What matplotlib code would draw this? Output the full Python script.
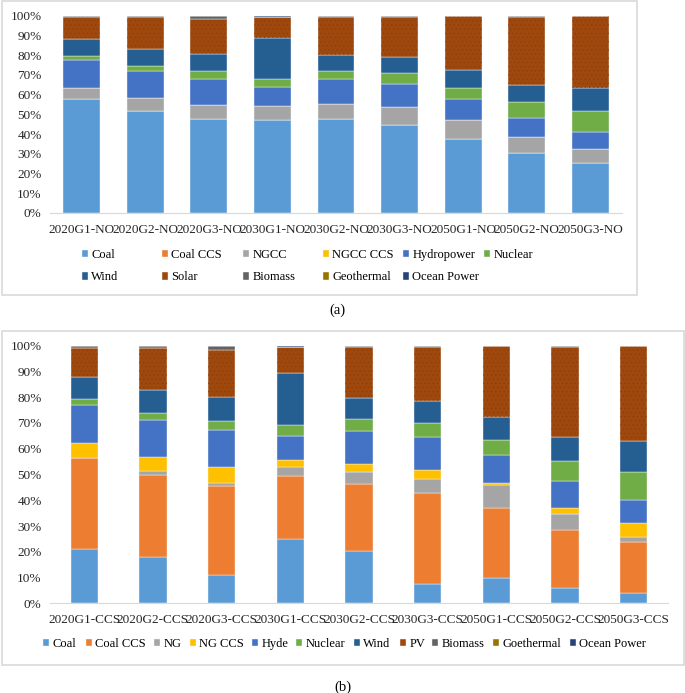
import numpy as np
import matplotlib
matplotlib.use("Agg")
import matplotlib.pyplot as plt
from matplotlib.patches import Rectangle

plt.rcParams['font.family'] = ['Liberation Serif', 'DejaVu Serif']
plt.rcParams['hatch.linewidth'] = 0.25

# ---- panel (a) data, % of generation ----
cats_a = ['2020G1-NO', '2020G2-NO', '2020G3-NO', '2030G1-NO', '2030G2-NO',
          '2030G3-NO', '2050G1-NO', '2050G2-NO', '2050G3-NO']
coal_a = [57.7, 51.6, 47.4, 47.2, 47.4, 44.7, 37.6, 30.2, 25.1]
coalccs_a = [0, 0, 0, 0, 0, 0, 0, 0, 0]
ngcc_a = [5.9, 6.7, 7.1, 6.8, 7.9, 8.8, 9.6, 8.2, 7.3]
ngccccs_a = [0, 0, 0, 0, 0, 0, 0, 0, 0]
hydro_a = [14.1, 13.7, 13.6, 9.9, 12.5, 12.1, 10.8, 10.0, 8.9]
nuclear_a = [2.1, 2.5, 3.7, 4.2, 4.4, 5.4, 5.6, 7.9, 10.5]
wind_a = [8.4, 8.6, 9.0, 20.8, 8.1, 8.1, 8.9, 8.6, 11.8]
solar_a = [11.3, 16.1, 17.5, 10.3, 19.2, 20.4, 27.2, 34.6, 36.1]
biomass_a = [0.5, 0.8, 1.7, 0.3, 0.5, 0.5, 0.3, 0.5, 0.3]
geo_a = [0, 0, 0, 0, 0, 0, 0, 0, 0]
ocean_a = [0, 0, 0, 0.5, 0, 0, 0, 0, 0]

# ---- panel (b) data ----
cats_b = ['2020G1-CCS', '2020G2-CCS', '2020G3-CCS', '2030G1-CCS', '2030G2-CCS',
          '2030G3-CCS', '2050G1-CCS', '2050G2-CCS', '2050G3-CCS']
coal_b = [21.2, 18.1, 11.0, 24.8, 20.3, 7.5, 9.7, 6.0, 4.1]
coalccs_b = [35.1, 31.7, 34.5, 24.7, 25.9, 35.3, 27.4, 22.6, 19.8]
ng_b = [0, 1.6, 1.3, 3.3, 4.8, 5.5, 8.7, 6.2, 1.7]
ngccs_b = [6.1, 5.5, 6.2, 2.7, 3.2, 3.6, 0.9, 2.2, 5.7]
hyde_b = [14.4, 14.3, 14.3, 9.6, 12.7, 12.5, 11.0, 10.3, 8.9]
nuclear_b = [2.4, 2.5, 3.6, 4.2, 4.5, 5.6, 5.8, 7.9, 10.6]
wind_b = [8.8, 9.0, 9.2, 20.0, 8.4, 8.5, 8.8, 9.2, 12.1]
pv_b = [11.2, 16.3, 18.3, 10.1, 19.6, 20.9, 27.4, 35.2, 36.8]
biomass_b = [0.8, 1.0, 1.6, 0.2, 0.6, 0.6, 0.3, 0.4, 0.3]
geo_b = [0, 0, 0, 0, 0, 0, 0, 0, 0]
ocean_b = [0, 0, 0, 0.4, 0, 0, 0, 0, 0]

colors = ['#5B9BD5', '#ED7D31', '#A5A5A5', '#FFC000', '#4472C4', '#70AD47',
          '#255E91', '#9E480E', '#636363', '#997300', '#264478']

labels_a = ['Coal', 'Coal CCS', 'NGCC', 'NGCC CCS', 'Hydropower', 'Nuclear',
            'Wind', 'Solar', 'Biomass', 'Geothermal', 'Ocean Power']
labels_b = ['Coal', 'Coal CCS', 'NG', 'NG CCS', 'Hyde', 'Nuclear',
            'Wind', 'PV', 'Biomass', 'Goethermal', 'Ocean Power']

series_a = [coal_a, coalccs_a, ngcc_a, ngccccs_a, hydro_a, nuclear_a,
            wind_a, solar_a, biomass_a, geo_a, ocean_a]
series_b = [coal_b, coalccs_b, ng_b, ngccs_b, hyde_b, nuclear_b,
            wind_b, pv_b, biomass_b, geo_b, ocean_b]

W, H = 685, 693
fig = plt.figure(figsize=(W / 100, H / 100), dpi=100)


def fx(px):
	return px / W


def fy(py):
	return 1 - py / H


def stack(ax, cats, series, labels, width):
	x = np.arange(len(cats))
	bottom = np.zeros(len(cats))
	handles = []
	for i, s in enumerate(series):
		s = np.array(s, dtype=float)
		h = ax.bar(x, s, width, bottom=bottom, color=colors[i],
				   edgecolor='#f4f7fb', linewidth=0.3, label=labels[i])
		if i == 7:
			# stippled texture on solar/PV
			ax.bar(x, s, width, bottom=bottom, fill=False, hatch='....',
				   edgecolor='#873a0a', linewidth=0)
		handles.append(h)
		bottom += s
	ax.set_xlim(-0.5, len(cats) - 0.5)
	ax.set_ylim(0, 100)
	ax.set_yticks(np.arange(0, 101, 10))
	ax.set_yticklabels([f'{v}%' for v in range(0, 101, 10)])
	ax.set_xticks(x)
	ax.set_xticklabels(cats)
	for sp in ['top', 'right', 'left']:
		ax.spines[sp].set_visible(False)
	ax.spines['bottom'].set_color('#d9d9d9')
	ax.tick_params(length=0, labelsize=9.5, colors='#262626', pad=6)
	ax.tick_params(axis='x', pad=8)
	return handles


def legend_entry(h, lab, x, y):
	fig.legend([h], [lab], loc='center left', bbox_to_anchor=(fx(x), fy(y)),
			   frameon=False, fontsize=9, borderpad=0, borderaxespad=0,
			   handlelength=0.5, handleheight=0.5, handletextpad=0.25)


# panel (a)
ax1 = fig.add_axes([fx(50), fy(213), fx(622) - fx(50), fy(15.7) - fy(213)])
ha = stack(ax1, cats_a, series_a, labels_a, 0.58)
col_x_a = [82, 162, 243, 323, 403, 484]
row_y_a = [255, 277.5]
for i, (h, lab) in enumerate(zip(ha, labels_a)):
	legend_entry(h, lab, col_x_a[i % 6], row_y_a[i // 6])

# panel (b)
ax2 = fig.add_axes([fx(50), fy(603.3), fx(668) - fx(50), fy(345.7) - fy(603.3)])
hb = stack(ax2, cats_b, series_b, labels_b, 0.4)
leg_x_b = [43, 86, 154, 190, 252, 296, 354, 400, 432, 493, 570]
for h, lab, x in zip(hb, labels_b, leg_x_b):
	legend_entry(h, lab, x, 644)

# panel frames
for (x0, y0, x1, y1) in [(2, 1, 637, 295), (2, 331, 684, 665)]:
	fig.add_artist(Rectangle((fx(x0), fy(y1)), fx(x1) - fx(x0), fy(y0) - fy(y1),
							 transform=fig.transFigure, fill=False,
							 edgecolor='#d9d9d9', linewidth=1.2))

fig.text(fx(337), fy(310), '(a)', ha='center', va='center', fontsize=10.5)
fig.text(fx(343), fy(687), '(b)', ha='center', va='center', fontsize=10.5)

fig.savefig('out.png', dpi=100, facecolor='white')
